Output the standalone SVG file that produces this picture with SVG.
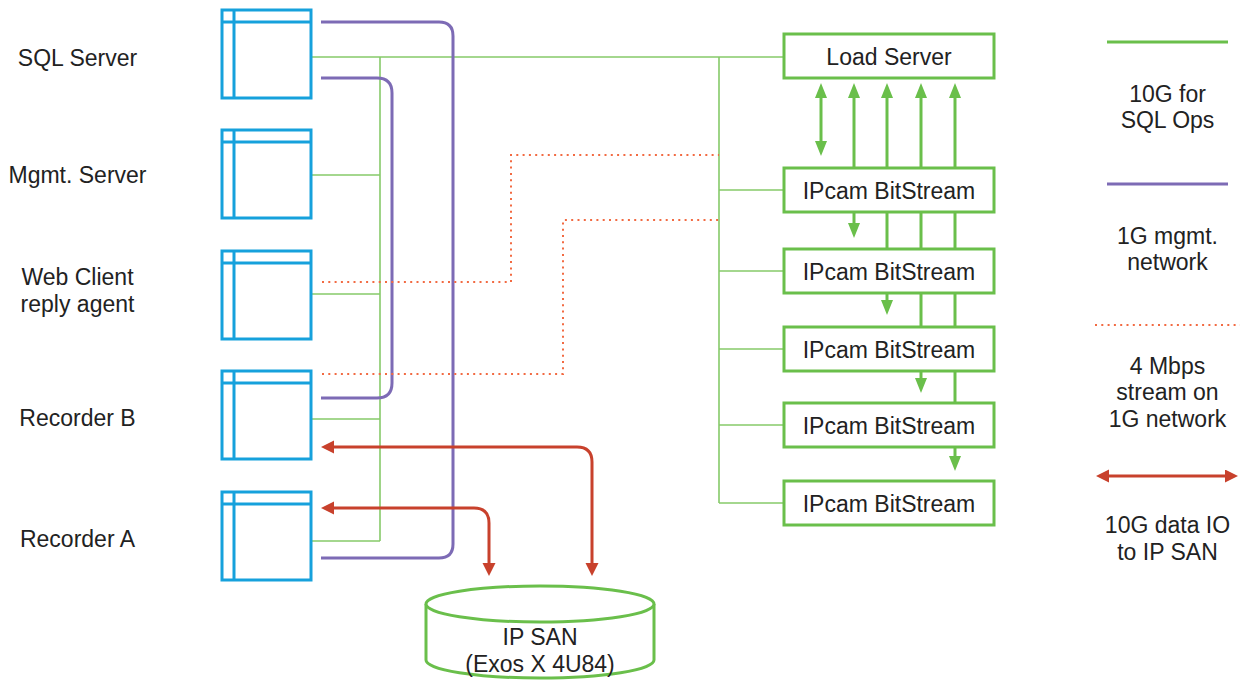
<svg xmlns="http://www.w3.org/2000/svg" width="1241" height="681" viewBox="0 0 1241 681">
<style>
text{font-family:"Liberation Sans",Arial,sans-serif;font-size:23px;fill:#222;text-anchor:middle}
.srv{fill:none;stroke:#16a1dc;stroke-width:3}
.box{fill:#fff;stroke:#6abf4b;stroke-width:3}
.thin{fill:none;stroke:#86ca69;stroke-width:1.6}
.mg{fill:none;stroke:#7d6bb5;stroke-width:3}
.dot{fill:none;stroke:#f26a42;stroke-width:2;stroke-dasharray:2 4.3}
.io{fill:none;stroke:#c8412c;stroke-width:3;marker-start:url(#ra);marker-end:url(#ra)}
.ga{fill:none;stroke:#6abf4b;stroke-width:3;marker-end:url(#ga)}
.gl{fill:none;stroke:#6abf4b;stroke-width:3}
.gaa{fill:none;stroke:#6abf4b;stroke-width:3;marker-start:url(#ga);marker-end:url(#ga)}
</style>
<defs>
<marker id="ra" markerUnits="userSpaceOnUse" markerWidth="14" markerHeight="14" refX="3" refY="6.5" orient="auto-start-reverse" viewBox="0 0 14 14">
<path d="M0,0 L13,6.5 L0,13 z" fill="#c8412c"/>
</marker>
<marker id="ga" markerUnits="userSpaceOnUse" markerWidth="16" markerHeight="13" refX="5" refY="6" orient="auto-start-reverse" viewBox="0 0 16 13">
<path d="M0,0 L15,6 L0,12 z" fill="#6abf4b"/>
</marker>
</defs>
<rect width="1241" height="681" fill="#fff"/>

<g id="connectors">
<path class="thin" d="M311 57 H784"/>
<path class="thin" d="M380 57 V541"/>
<path class="thin" d="M311 175 H380 M311 294 H380 M311 419 H380 M311 541 H380"/>
<path class="thin" d="M719 57 V503 M719 190 H784 M719 271 H784 M719 349 H784 M719 425 H784 M719 503 H784"/>
<path class="mg" d="M321 22 H439 Q453 22 453 36 V544 Q453 558 439 558 H321"/>
<path class="mg" d="M321 78 H377 Q392 78 392 93 V383 Q392 398 377 398 H321"/>
<path class="dot" d="M322 282 H511 V155 H719"/>
<path class="dot" d="M322 374 H563 V220 H719"/>
<path class="io" d="M331 447 H577 Q592 447 592 462 V566"/>
<path class="io" d="M331 508 H474 Q489 508 489 523 V566"/>
<path class="gaa" d="M821 93 V146"/>
<path class="ga" d="M854 168 V93"/>
<path class="ga" d="M887 168 V93"/>
<path class="ga" d="M921 168 V93"/>
<path class="ga" d="M955 168 V93"/>
<path class="ga" d="M854 212 V228"/>
<path class="gl" d="M887 212 V249 M921 212 V249 M955 212 V249"/>
<path class="ga" d="M887 293 V305"/>
<path class="gl" d="M921 293 V327 M955 293 V327"/>
<path class="ga" d="M921 371 V383"/>
<path class="gl" d="M955 371 V403"/>
<path class="ga" d="M955 447 V461"/>
</g>

<g id="sql-server">
<rect class="srv" x="222" y="10" width="89" height="88"/>
<path class="srv" d="M222 22 H311 M234 10 V98"/>
<text x="77.5" y="65.5">SQL Server</text>
</g>
<g id="mgmt-server">
<rect class="srv" x="222" y="130" width="89" height="88"/>
<path class="srv" d="M222 142 H311 M234 130 V218"/>
<text x="77.5" y="182.5">Mgmt. Server</text>
</g>
<g id="web-client">
<rect class="srv" x="222" y="251" width="89" height="88"/>
<path class="srv" d="M222 263 H311 M234 251 V339"/>
<text x="77.5" y="285">Web Client</text>
<text x="77.5" y="311.5">reply agent</text>
</g>
<g id="recorder-b">
<rect class="srv" x="222" y="371" width="89" height="88"/>
<path class="srv" d="M222 383 H311 M234 371 V459"/>
<text x="77.5" y="426">Recorder B</text>
</g>
<g id="recorder-a">
<rect class="srv" x="222" y="492" width="89" height="88"/>
<path class="srv" d="M222 504 H311 M234 492 V580"/>
<text x="77.5" y="547">Recorder A</text>
</g>

<g id="load-server">
<rect class="box" x="784" y="34" width="210" height="44"/>
<text x="889" y="64.5">Load Server</text>
</g>
<g id="ipcam-1">
<rect class="box" x="784" y="168" width="210" height="44"/>
<text x="889" y="198.5">IPcam BitStream</text>
</g>
<g id="ipcam-2">
<rect class="box" x="784" y="249" width="210" height="44"/>
<text x="889" y="279.5">IPcam BitStream</text>
</g>
<g id="ipcam-3">
<rect class="box" x="784" y="327" width="210" height="44"/>
<text x="889" y="357.5">IPcam BitStream</text>
</g>
<g id="ipcam-4">
<rect class="box" x="784" y="403" width="210" height="44"/>
<text x="889" y="433.5">IPcam BitStream</text>
</g>
<g id="ipcam-5">
<rect class="box" x="784" y="481" width="210" height="44"/>
<text x="889" y="511.5">IPcam BitStream</text>
</g>

<g id="ip-san">
<path class="box" d="M426 604 V660 A114 18 0 0 0 654 660 V604"/>
<ellipse class="box" cx="540" cy="604" rx="114" ry="18"/>
<text x="540" y="645">IP SAN</text>
<text x="540" y="672">(Exos X 4U84)</text>
</g>

<g id="legend">
<path class="gl" d="M1107 42 H1228"/>
<text x="1167.5" y="101.5">10G for</text>
<text x="1167.5" y="128">SQL Ops</text>
<path class="mg" d="M1107 184 H1228"/>
<text x="1167.5" y="244">1G mgmt.</text>
<text x="1167.5" y="270">network</text>
<path class="dot" d="M1095 325 H1240"/>
<text x="1167.5" y="374">4 Mbps</text>
<text x="1167.5" y="400">stream on</text>
<text x="1167.5" y="426.5">1G network</text>
<path class="io" d="M1106 476 H1228"/>
<text x="1167.5" y="533">10G data IO</text>
<text x="1167.5" y="560">to IP SAN</text>
</g>
</svg>
